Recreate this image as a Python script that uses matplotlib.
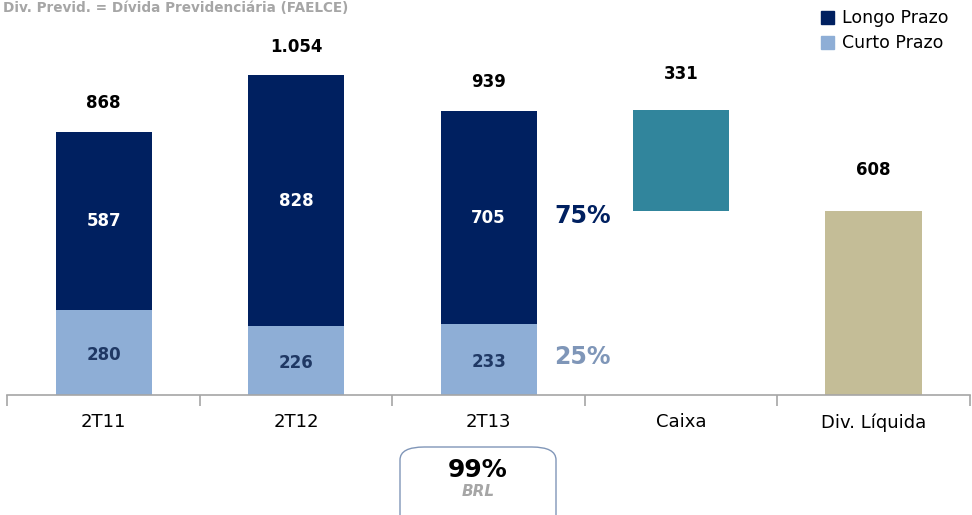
import numpy as np
import matplotlib.pyplot as plt
from matplotlib.patches import FancyBboxPatch, Patch

# chart data
categories = ["2T11", "2T12", "2T13", "Caixa", "Div. Líquida"]
curto = [280, 226, 233]
longo = [587, 828, 705]
totals = [868, 1054, 939]
caixa = 331
liquida = 608
share_longo = "75%"
share_curto = "25%"

navy = "#002060"
light = "#8eaed6"
teal = "#31859c"
tan = "#c4bd97"

fig = plt.figure(figsize=(9.72, 5.15), dpi=100)
ax = fig.add_axes([0.0077, 0.233, 0.990, 0.767])

x = np.arange(len(categories))
w = 0.5

# stacked debt bars
ax.bar(x[:3], curto, w, color=light)
ax.bar(x[:3], longo, w, bottom=curto, color=navy)

# cash as a floating waterfall step, then net debt
ax.bar(x[3], caixa, w, bottom=totals[2] - caixa, color=teal)
ax.bar(x[4], liquida, w, color=tan)

for i in range(3):
    ax.text(x[i], curto[i] / 2 - 8, f"{curto[i]}", ha="center", va="center",
            color="#1f3864", fontsize=12, fontweight="bold")
    ax.text(x[i], curto[i] + longo[i] / 2, f"{longo[i]}", ha="center", va="center",
            color="white", fontsize=12, fontweight="bold")
    ax.text(x[i], totals[i] + 95, f"{totals[i]:,}".replace(",", "."), ha="center",
            va="center", color="black", fontsize=12, fontweight="bold")

ax.text(x[3], totals[2] + 120, f"{caixa}", ha="center", va="center",
        color="black", fontsize=12, fontweight="bold")
ax.text(x[4], liquida + 135, f"{liquida}", ha="center", va="center",
        color="black", fontsize=12, fontweight="bold")

# share labels next to 2T13
ax.text(2.34, 589, share_longo, ha="left", va="center", color=navy,
        fontsize=17, fontweight="bold")
ax.text(2.34, 126, share_curto, ha="left", va="center", color="#7f96b8",
        fontsize=17, fontweight="bold")

ax.set_xlim(-0.5, 4.5)
ax.set_ylim(0, 1303)
ax.set_yticks([])
for s in ["left", "top", "right"]:
    ax.spines[s].set_visible(False)
ax.spines["bottom"].set_color("#a6a6a6")
ax.spines["bottom"].set_linewidth(1.2)

ax.set_xticks(x)
ax.set_xticklabels(categories, fontsize=13)
ax.tick_params(axis="x", which="major", length=0, pad=13)
ax.set_xticks(np.arange(-0.5, 5.0, 1.0), minor=True)
ax.tick_params(axis="x", which="minor", length=8, width=1.2, color="#a6a6a6")

# legend
handles = [Patch(color=navy, label="Longo Prazo"), Patch(color=light, label="Curto Prazo")]
fig.legend(handles=handles, loc="upper right", bbox_to_anchor=(0.992, 1.012),
           frameon=False, fontsize=12.5, handlelength=0.75, handleheight=0.75,
           handletextpad=0.45, labelspacing=0.4)

# note at the top
fig.text(0.003, 0.999, "Div. Previd. = Dívida Previdenciária (FAELCE)",
         ha="left", va="top", color="#a6a6a6", fontsize=9.8, fontweight="bold")

# currency box
box = FancyBboxPatch((400 / 972, -20 / 515), 156 / 972, 88 / 515,
                     boxstyle="round,pad=0,rounding_size=0.025",
                     transform=fig.transFigure, facecolor="white",
                     edgecolor="#8096b8", linewidth=1.0)
fig.patches.append(box)
fig.text(478 / 972, 1 - 470 / 515, "99%", ha="center", va="center",
         color="black", fontsize=18, fontweight="bold")
fig.text(478 / 972, 1 - 492 / 515, "BRL", ha="center", va="center",
         color="#a6a6a6", fontsize=11, fontweight="bold", style="italic")

fig.savefig("out.png", dpi=100)
